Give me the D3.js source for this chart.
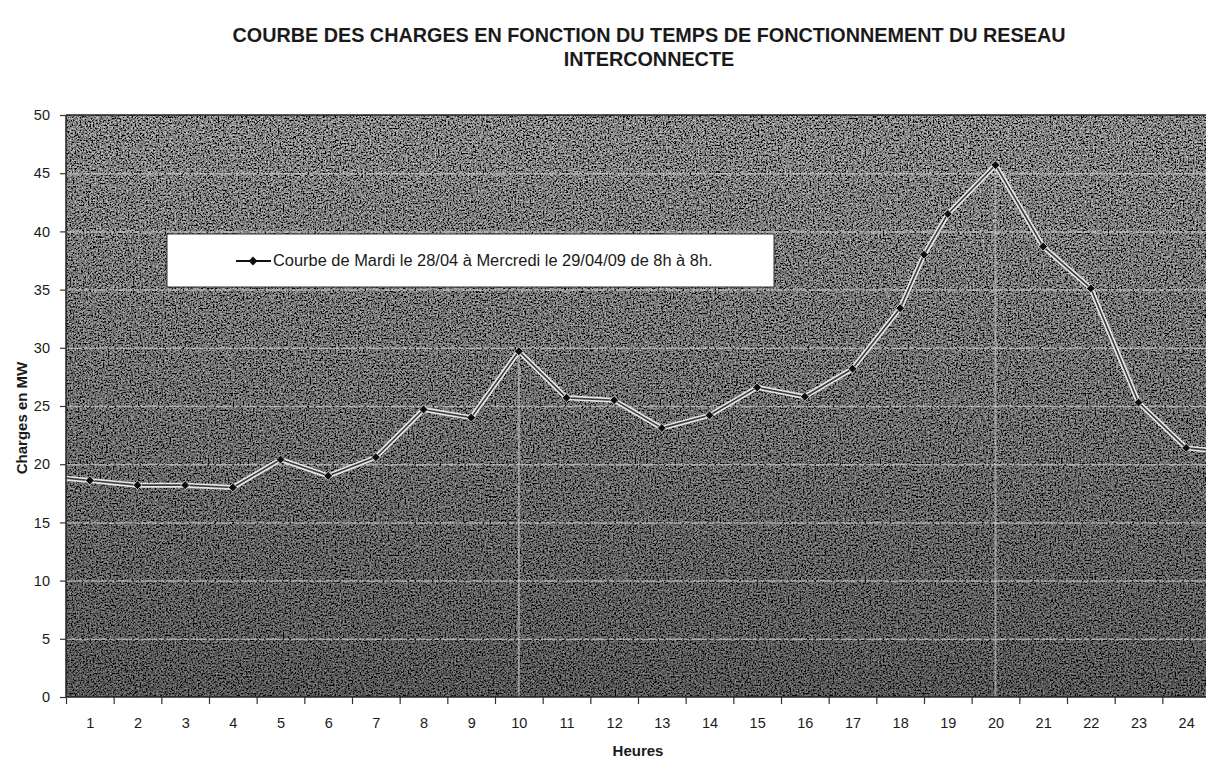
<!DOCTYPE html>
<html lang="fr">
<head>
<meta charset="utf-8" />
<title>Courbe des charges</title>
<script src="https://d3js.org/d3.v7.min.js"></script>
<style>
    body { margin: 0; background: #fff; }
    text { font-family: "Liberation Sans", Arial, sans-serif; fill: #1a1a1a; }
    .axis path { display: none; }
    .axis line { stroke: #333; stroke-width: 1.2px; }
    .axis text { font-size: 14.5px; }
    .grid line { stroke: #cfcfcf; stroke-width: 1.5px; stroke-opacity: 0.7; stroke-dasharray: 16 2 5 2; }
</style>
</head>
<body>
<div id="chart"></div>
<script>
// hours (0.5 and 24.5 are the plot edges, 18.5 is the extra reading between 18h and 19h)
var hours   = [0.5, 1, 2, 3, 4, 5, 6, 7, 8, 9, 10, 11, 12, 13, 14, 15, 16, 17, 18, 18.5, 19, 20, 21, 22, 23, 24, 24.5];
var charges = [18.8, 18.6, 18.2, 18.2, 18.0, 20.4, 19.0, 20.6, 24.7, 24.0, 29.7, 25.7, 25.5, 23.1, 24.2, 26.6, 25.8, 28.2, 33.4, 38.0, 41.5, 45.7, 38.7, 35.1, 25.3, 21.4, 21.2];
var hourLabels = [1, 2, 3, 4, 5, 6, 7, 8, 9, 10, 11, 12, 13, 14, 15, 16, 17, 18, 19, 20, 21, 22, 23, 24];
var yTicks = [0, 5, 10, 15, 20, 25, 30, 35, 40, 45, 50];
var dropHours = [10, 20];
var titleLines = ["COURBE DES CHARGES EN FONCTION DU TEMPS DE FONCTIONNEMENT DU RESEAU", "INTERCONNECTE"];
var legendText = "Courbe de Mardi le 28/04 à Mercredi le 29/04/09 de 8h à 8h.";

var width = 1206, height = 760;
var pL = 66, pR = 1210, pT = 115, pB = 697;

var svg = d3.select("#chart").append("svg")
    .attr("width", width)
    .attr("height", height);

var defs = svg.append("defs");
var f = defs.append("filter").attr("id", "grain")
    .attr("x", 0).attr("y", 0).attr("width", "100%").attr("height", "100%");
f.append("feTurbulence").attr("type", "fractalNoise").attr("baseFrequency", 0.6)
    .attr("numOctaves", 3).attr("seed", 11).attr("result", "t");
f.append("feColorMatrix").attr("in", "t").attr("type", "matrix")
    .attr("values", "1 0 0 0 0  1 0 0 0 0  1 0 0 0 0  0 0 0 0 1").attr("result", "g");
var ct = f.append("feComponentTransfer").attr("in", "g");
["feFuncR", "feFuncG", "feFuncB"].forEach(function (n) {
    ct.append(n).attr("type", "linear").attr("slope", 1.3).attr("intercept", -0.42);
});

var shade = defs.append("linearGradient").attr("id", "shade")
    .attr("x1", 0).attr("y1", 0).attr("x2", 0).attr("y2", 1);
shade.append("stop").attr("offset", "0%").attr("stop-color", "#000").attr("stop-opacity", 0);
shade.append("stop").attr("offset", "100%").attr("stop-color", "#000").attr("stop-opacity", 0.35);

defs.append("clipPath").attr("id", "plotclip").append("rect")
    .attr("x", pL).attr("y", pT).attr("width", pR - pL).attr("height", pB - pT);

var x = d3.scaleLinear().domain([0.5, 24.5]).range([pL, pR]);
var y = d3.scaleLinear().domain([0, 50]).range([pB, pT]);

// plot background
svg.append("rect").attr("x", pL).attr("y", pT)
    .attr("width", pR - pL).attr("height", pB - pT)
    .attr("fill", "#444").attr("filter", "url(#grain)");
svg.append("rect").attr("x", pL).attr("y", pT)
    .attr("width", pR - pL).attr("height", pB - pT)
    .attr("fill", "url(#shade)");

// horizontal grid
svg.append("g").attr("class", "grid")
    .attr("transform", "translate(" + pL + ",0)")
    .call(d3.axisLeft(y).tickValues(yTicks.slice(1, -1)).tickSize(-(pR - pL)).tickFormat(""))
    .call(function (g) { g.select(".domain").remove(); });

// drop lines at peaks
var plot = svg.append("g").attr("clip-path", "url(#plotclip)");
plot.selectAll(".drop")
    .data(dropHours)
    .enter().append("line")
    .attr("class", "drop")
    .attr("x1", function (d) { return x(d); })
    .attr("x2", function (d) { return x(d); })
    .attr("y1", function (d) { return y(charges[hours.indexOf(d)]); })
    .attr("y2", pB)
    .attr("stroke", "#c8c8c8").attr("stroke-width", 2).attr("stroke-opacity", 0.6);

// plot border
svg.append("line").attr("x1", pL).attr("x2", pR).attr("y1", pT).attr("y2", pT)
    .attr("stroke", "#222").attr("stroke-width", 1.5);
svg.append("line").attr("x1", pL).attr("x2", pL).attr("y1", pT).attr("y2", pB)
    .attr("stroke", "#222").attr("stroke-width", 1.5);
svg.append("line").attr("x1", pL).attr("x2", pR).attr("y1", pB).attr("y2", pB)
    .attr("stroke", "#222").attr("stroke-width", 1.5);

// series line
var pts = hours.map(function (h, i) { return [h, charges[i]]; });
var line = d3.line().x(function (d) { return x(d[0]); }).y(function (d) { return y(d[1]); });
plot.append("path").datum(pts).attr("d", line)
    .attr("fill", "none").attr("stroke", "#e6e6e6").attr("stroke-width", 5).attr("stroke-linejoin", "round");
plot.append("path").datum(pts).attr("d", line)
    .attr("fill", "none").attr("stroke", "#3a3a3a").attr("stroke-width", 1.6).attr("stroke-linejoin", "round");

var diamond = d3.symbol().type(d3.symbolDiamond2).size(50);
plot.selectAll(".pt")
    .data(pts.filter(function (d) { return d[0] >= 1 && d[0] <= 24; }))
    .enter().append("path")
    .attr("class", "pt")
    .attr("transform", function (d) { return "translate(" + x(d[0]) + "," + y(d[1]) + ")"; })
    .attr("d", diamond)
    .attr("fill", "#0d0d0d").attr("stroke", "#ddd").attr("stroke-width", 0.8);

// axes
svg.append("g").attr("class", "axis")
    .attr("transform", "translate(" + pL + ",0)")
    .call(d3.axisLeft(y).tickValues(yTicks).tickSize(6).tickPadding(10));

var bounds = hourLabels.map(function (h) { return h - 0.5; }).concat([24.5]);
svg.append("g").attr("class", "axis")
    .attr("transform", "translate(0," + pB + ")")
    .call(d3.axisBottom(x).tickValues(bounds).tickSize(7).tickFormat(""));
svg.append("g").attr("class", "axis")
    .attr("transform", "translate(0," + pB + ")")
    .call(d3.axisBottom(x).tickValues(hourLabels).tickSize(0).tickPadding(21).tickFormat(d3.format("d")))
    .call(function (g) { g.selectAll("line").remove(); });

// axis titles
svg.append("text").attr("x", (pL + pR) / 2).attr("y", 756)
    .attr("text-anchor", "middle").attr("font-weight", "bold").attr("font-size", 15)
    .text("Heures");
svg.append("text")
    .attr("transform", "translate(27,418) rotate(-90)")
    .attr("text-anchor", "middle").attr("font-weight", "bold").attr("font-size", 15)
    .text("Charges en MW");

// title
svg.selectAll(".title")
    .data(titleLines)
    .enter().append("text")
    .attr("class", "title")
    .attr("x", 649)
    .attr("y", function (d, i) { return 42 + i * 24; })
    .attr("text-anchor", "middle").attr("font-weight", "bold").attr("font-size", 19.8)
    .text(function (d) { return d; });

// legend
var lg = svg.append("g");
lg.append("rect").attr("x", 167).attr("y", 234).attr("width", 607).attr("height", 53)
    .attr("fill", "#fff").attr("stroke", "#333").attr("stroke-width", 1);
lg.append("line").attr("x1", 236).attr("x2", 271).attr("y1", 261).attr("y2", 261)
    .attr("stroke", "#111").attr("stroke-width", 2);
lg.append("path").attr("transform", "translate(253,261)").attr("d", diamond).attr("fill", "#111");
var lt = lg.append("text").attr("x", 273).attr("y", 266).attr("font-size", 14).text(legendText);
var w = lt.node().getComputedTextLength();
if (w > 0) lt.attr("font-size", 14 * 440 / w);
</script>
</body>
</html>
